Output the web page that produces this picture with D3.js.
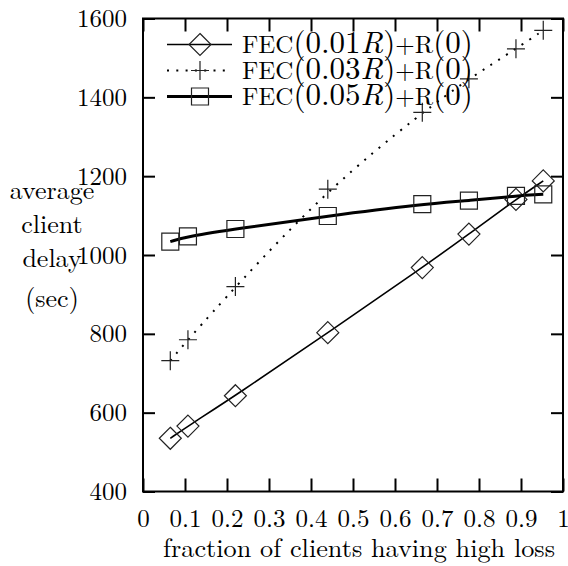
<!DOCTYPE html>
<html>
<head>
<meta charset="utf-8">
<script src="https://cdn.jsdelivr.net/npm/d3@7"></script>
<style>
  body { margin: 0; background: #fff; }
</style>
</head>
<body>
<div id="chart"></div>
<script>
// fraction of clients having high loss
const fractions = [0.065, 0.107, 0.22, 0.44, 0.665, 0.776, 0.888, 0.953];
const fec01 = [535, 566, 643, 803, 968, 1053, 1141, 1188];
const fec03 = [732, 785, 920, 1167, 1362, 1447, 1523, 1570];
const fec05 = [1034, 1047, 1066, 1099, 1129, 1138, 1150, 1154];
const xTicks = [0, 0.1, 0.2, 0.3, 0.4, 0.5, 0.6, 0.7, 0.8, 0.9, 1];
const yTicks = [400, 600, 800, 1000, 1200, 1400, 1600];
const yLabelLines = ["average", "client", "delay", "(sec)"];

const FONT = "'Latin Modern Roman', 'CMU Serif', 'Liberation Serif', serif";
const width = 568, height = 566;
const margin = { top: 18.5, right: 5, bottom: 74.5, left: 143 };

const svg = d3.select("#chart").append("svg")
  .attr("width", width)
  .attr("height", height);

const x = d3.scaleLinear().domain([0, 1]).range([margin.left, width - margin.right]);
const y = d3.scaleLinear().domain([400, 1600]).range([height - margin.bottom, margin.top]);

const series = [
  { name: "0.01", values: fec01, marker: "diamond", width: 1.6, dash: null },
  { name: "0.03", values: fec03, marker: "plus", width: 2, dash: "2,7.3" },
  { name: "0.05", values: fec05, marker: "square", width: 3, dash: null }
];

function marker(g, type) {
  if (type === "diamond") {
    g.append("path").attr("d", "M0,-11L11,0L0,11L-11,0Z");
  } else if (type === "square") {
    g.append("path").attr("d", "M-8.5,-8.5H8.5V8.5H-8.5Z");
  } else {
    g.append("path").attr("d", "M-9,0H9M0,-9.5V9.5");
  }
  g.selectAll("path").attr("fill", "none").attr("stroke", "#222").attr("stroke-width", 1.2);
}

// Axes (ticks inward on all four sides)
const styleAxis = g => {
  g.selectAll(".domain").remove();
  g.selectAll("line").attr("stroke", "#000").attr("stroke-width", 2);
  g.selectAll("text").attr("font-size", 25).attr("fill", "#000")
    .style("font-family", FONT);
};

svg.append("g")
  .attr("transform", `translate(0,${y(400)})`)
  .call(d3.axisBottom(x).tickValues(xTicks).tickSize(-13).tickPadding(18)
    .tickFormat(d => d === 0 || d === 1 ? d3.format("d")(d) : d3.format(".1f")(d)))
  .call(styleAxis);

svg.append("g")
  .attr("transform", `translate(0,${y(1600)})`)
  .call(d3.axisTop(x).tickValues(xTicks).tickSize(-13).tickFormat(""))
  .call(styleAxis);

svg.append("g")
  .attr("transform", `translate(${x(0)},0)`)
  .call(d3.axisLeft(y).tickValues(yTicks).tickSize(-12).tickPadding(16).tickFormat(d3.format("d")))
  .call(styleAxis);

svg.append("g")
  .attr("transform", `translate(${x(1)},0)`)
  .call(d3.axisRight(y).tickValues(yTicks).tickSize(-12).tickFormat(""))
  .call(styleAxis);

// Frame
svg.append("rect")
  .attr("x", x(0)).attr("y", y(1600))
  .attr("width", x(1) - x(0)).attr("height", y(400) - y(1600))
  .attr("fill", "none").attr("stroke", "#000").attr("stroke-width", 2);

// Axis labels
svg.append("text")
  .attr("x", 359)
  .attr("y", 557)
  .attr("text-anchor", "middle")
  .attr("font-size", 26)
  .style("font-family", FONT)
  .attr("textLength", 392)
  .attr("lengthAdjust", "spacingAndGlyphs")
  .text("fraction of clients having high loss");

const yLabelBase = [199, 233, 267, 307];
yLabelLines.forEach((t, i) => {
  svg.append("text")
    .attr("x", 52)
    .attr("y", yLabelBase[i])
    .attr("text-anchor", "middle")
    .attr("font-size", 26)
    .style("font-family", FONT)
    .text(t);
});

// Lines
const line = d3.line()
  .x((d, i) => x(fractions[i]))
  .y(d => y(d))
  .curve(d3.curveBasis);

series.forEach(s => {
  svg.append("path")
    .datum(s.values)
    .attr("d", line)
    .attr("fill", "none")
    .attr("stroke", "#000")
    .attr("stroke-width", s.width)
    .attr("stroke-dasharray", s.dash);

  s.values.forEach((v, i) => {
    const g = svg.append("g").attr("transform", `translate(${x(fractions[i])},${y(v)})`);
    marker(g, s.marker);
  });
});

// Legend
series.forEach((s, i) => {
  const ly = 44.5 + i * 26;
  svg.append("line")
    .attr("x1", 167).attr("x2", 232)
    .attr("y1", ly).attr("y2", ly)
    .attr("stroke", "#000")
    .attr("stroke-width", s.width)
    .attr("stroke-dasharray", s.dash);
  const g = svg.append("g").attr("transform", `translate(200,${ly})`);
  marker(g, s.marker);

  const t = svg.append("text")
    .attr("x", 242)
    .attr("y", ly + 8)
    .attr("font-size", 25)
    .style("font-family", FONT);
  t.append("tspan").text("FEC");
  t.append("tspan").attr("font-size", 31).text(`(${s.name}`);
  t.append("tspan").attr("font-size", 31).attr("font-style", "italic").text("R");
  t.append("tspan").attr("font-size", 31).text(")");
  t.append("tspan").text("+R");
  t.append("tspan").attr("font-size", 31).text("(0)");
});
</script>
</body>
</html>
